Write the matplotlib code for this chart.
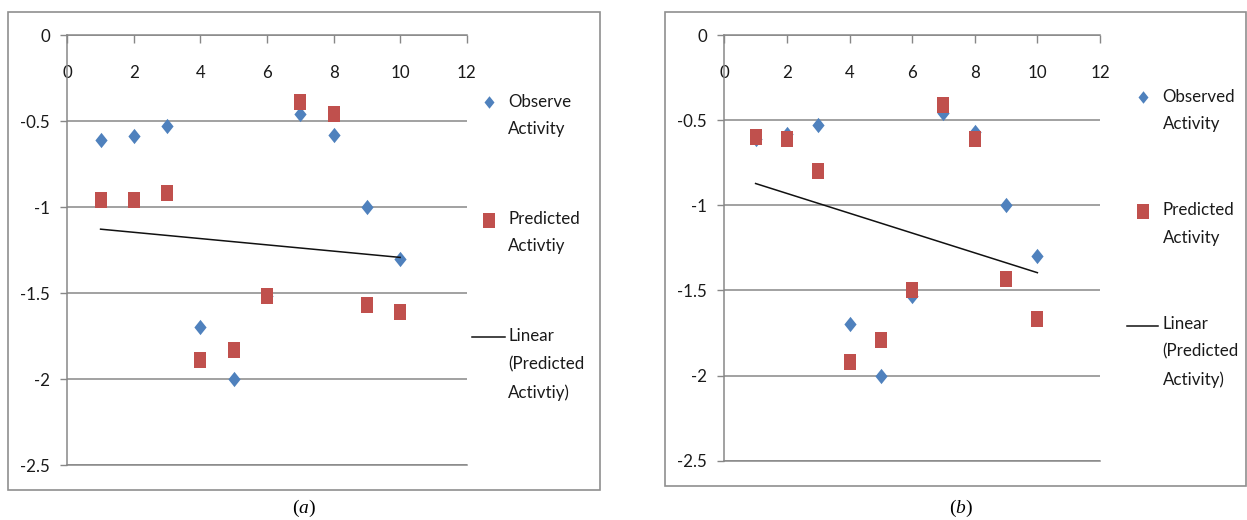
import numpy as np
import matplotlib
matplotlib.use("Agg")
import matplotlib.pyplot as plt
from matplotlib.path import Path
from matplotlib.lines import Line2D
from matplotlib.patches import Rectangle

# ---------------- data ----------------
x_vals = [1, 2, 3, 4, 5, 6, 7, 8, 9, 10]
observed_a = [-0.61, -0.59, -0.53, -1.70, -2.00, -1.52, -0.46, -0.58, -1.00, -1.30]
predicted_a = [-0.96, -0.96, -0.92, -1.89, -1.83, -1.52, -0.39, -0.46, -1.57, -1.61]
observed_b = [-0.61, -0.58, -0.53, -1.70, -2.00, -1.53, -0.46, -0.57, -1.00, -1.30]
predicted_b = [-0.60, -0.61, -0.80, -1.92, -1.79, -1.50, -0.41, -0.61, -1.43, -1.67]

x_ticks = [0, 2, 4, 6, 8, 10, 12]
x_tick_labels = ["0", "2", "4", "6", "8", "10", "12"]
y_ticks = [0, -0.5, -1, -1.5, -2, -2.5]
y_tick_labels = ["0", "-0.5", "-1", "-1.5", "-2", "-2.5"]
legend_a = ["Observe\nActivity", "Predicted\nActivtiy", "Linear\n(Predicted\nActivtiy)"]
legend_b = ["Observed\nActivity", "Predicted\nActivity", "Linear\n(Predicted\nActivity)"]
captions = ["a", "b"]

# ---------------- style ----------------
W, H = 1247, 520
plt.rcParams['font.family'] = ['Lato', 'DejaVu Sans']
plt.rcParams['mathtext.fontset'] = 'custom'
plt.rcParams['mathtext.rm'] = 'Liberation Serif'
plt.rcParams['mathtext.it'] = 'Liberation Serif:italic'

BLUE = '#4F81BD'
RED = '#C0504D'
GRID = '#878787'
BOX = '#8f8f8f'
TEXT = '#1a1a1a'
TICK_FS = 12.2
LEG_FS = 12.2

DIAMOND = Path([(0, 0.5), (0.4, 0), (0, -0.5), (-0.4, 0), (0, 0.5)], closed=True)
RECT = Path([(-0.4, -0.5), (0.4, -0.5), (0.4, 0.5), (-0.4, 0.5), (-0.4, -0.5)], closed=True)

fig = plt.figure(figsize=(W / 100, H / 100), dpi=100)


def fx(px):
    return px / W


def fy(py):
    return 1 - py / H


def draw_panel(ax_px, box_px, obs, pred, labels, leg, caption, cap_px):
    x0, x1, yt, yb = ax_px
    ax = fig.add_axes([fx(x0), fy(yb), (x1 - x0) / W, (yb - yt) / H])
    ax.set_xlim(0, 12)
    ax.set_ylim(-2.5, 0)
    ax.set_axisbelow(True)
    ax.yaxis.grid(True, color=GRID, lw=1.1)

    ax.plot(x_vals, obs, ls='none', marker=DIAMOND, ms=11.0, color=BLUE,
            mew=0, zorder=3, clip_on=False)
    ax.plot(x_vals, pred, ls='none', marker=RECT, ms=11.4, color=RED,
            mew=0, zorder=4, clip_on=False)
    slope, icpt = np.polyfit(x_vals, pred, 1)
    xs = np.array([min(x_vals), max(x_vals)], dtype=float)
    ax.plot(xs, slope * xs + icpt, color='#111111', lw=1.1, zorder=5)

    ax.set_xticks(x_ticks)
    ax.set_xticklabels(x_tick_labels)
    ax.xaxis.set_ticks_position('top')
    ax.tick_params(axis='x', which='both', direction='in', length=5.8, width=1.0,
                   color=GRID, pad=-32.8, labelsize=TICK_FS, labelcolor=TEXT,
                   labeltop=True, labelbottom=False, bottom=False, top=True)
    ax.set_yticks(y_ticks)
    ax.set_yticklabels(y_tick_labels)
    ax.tick_params(axis='y', direction='out', length=4.7, width=1.0, color=GRID,
                   pad=7.7, labelsize=TICK_FS, labelcolor=TEXT)
    for s in ['top', 'left', 'bottom']:
        ax.spines[s].set_color(GRID)
        ax.spines[s].set_linewidth(1.1)
    ax.spines['right'].set_visible(False)

    # outer chart border
    bx0, by0, bx1, by1 = box_px
    fig.add_artist(Rectangle((fx(bx0), fy(by1)), (bx1 - bx0) / W, (by1 - by0) / H,
                             transform=fig.transFigure, fill=False, ec=BOX, lw=1.2))

    # legend
    (dx, dy), (sx, sy), (lx0, lx1, ly), tx, centers = leg
    fig.add_artist(Line2D([fx(dx)], [fy(dy)], ls='none', marker=DIAMOND, ms=9.0,
                          color=BLUE, mew=0, transform=fig.transFigure))
    fig.add_artist(Line2D([fx(sx)], [fy(sy)], ls='none', marker=RECT, ms=10.8,
                          color=RED, mew=0, transform=fig.transFigure))
    fig.add_artist(Line2D([fx(lx0), fx(lx1)], [fy(ly), fy(ly)], color='#111111',
                          lw=1.1, transform=fig.transFigure))
    for lab, cy in zip(labels, centers):
        fig.text(fx(tx), fy(cy), lab, ha='left', va='center', fontsize=LEG_FS,
                 linespacing=1.88, color=TEXT)

    fig.text(fx(cap_px[0]), fy(cap_px[1]), '(' + r'$\mathit{' + caption + '}$' + ')',
             ha='center', va='center', fontsize=14, family='Liberation Serif')
    return ax


draw_panel((67.3, 466.7, 35, 465), (7.7, 12.3, 600, 490), observed_a, predicted_a,
           legend_a,
           ((489, 101.7), (489, 220), (472.3, 505, 337.3), 508.3, (115.3, 232.5, 364.5)),
           captions[0], (304, 508))
draw_panel((724.3, 1100, 35, 460.7), (665, 12.3, 1246, 485.7), observed_b, predicted_b,
           legend_b,
           ((1143.3, 97.3), (1143, 211), (1126.7, 1158.3, 325.7), 1162.7, (110.7, 223.9, 351.7)),
           captions[1], (960.5, 508))

fig.savefig("out.png", dpi=100)
